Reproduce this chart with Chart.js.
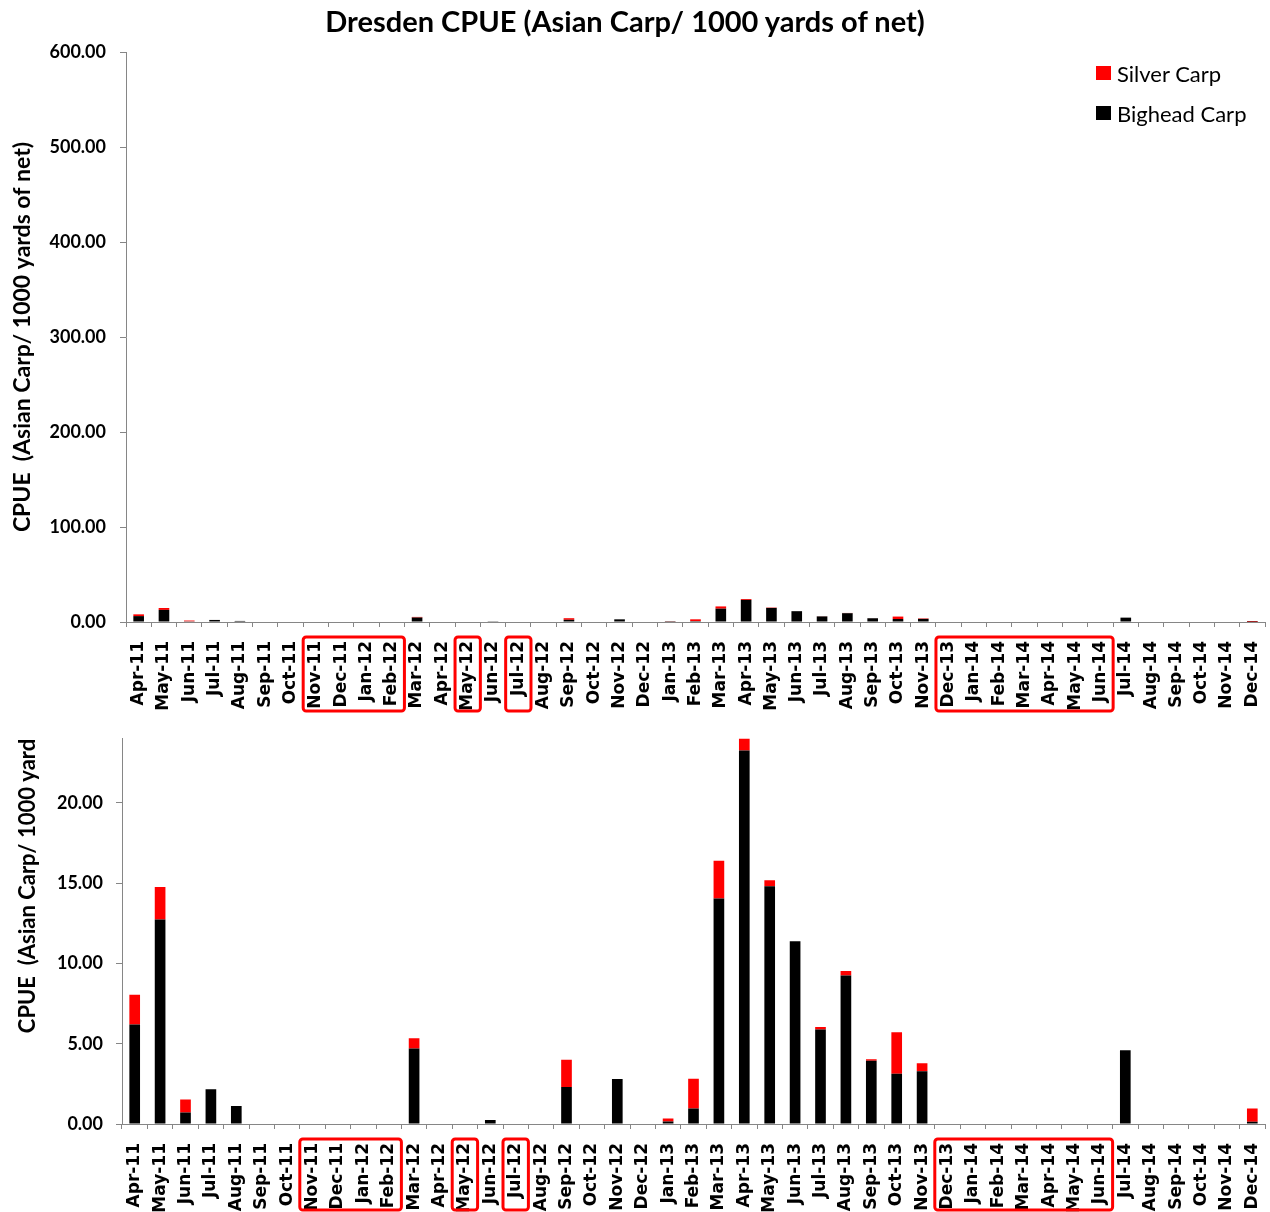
<!DOCTYPE html>
<html>
<head>
<meta charset="utf-8">
<title>Dresden CPUE</title>
<script src="https://cdn.jsdelivr.net/npm/chart.js@4.4.1/dist/chart.umd.min.js"></script>
<style>
  html, body { margin: 0; padding: 0; background: #fff; }
  #page { position: relative; width: 1270px; height: 1212px; overflow: hidden; }
  #title {
    position: absolute; left: 0; top: 3px; width: 1250px; text-align: center;
    font: bold 29px Lato, sans-serif; color: #000; white-space: pre;
  }
  #topCanvas { position: absolute; left: 0; top: 0; }
  #bottomCanvas { position: absolute; left: 0; top: 715px; }
  #legend { position: absolute; left: 1096px; top: 53px; font: 22px Lato, sans-serif; color: #000; }
  #legend .item { display: flex; align-items: center; height: 40px; }
  #legend .swatch { width: 15px; height: 14px; margin-right: 6px; }
</style>
</head>
<body>
<div id="page">
  <canvas id="topCanvas" width="1270" height="715"></canvas>
  <canvas id="bottomCanvas" width="1270" height="497"></canvas>
  <div id="title">Dresden CPUE (Asian Carp/ 1000 yards of net)</div>
  <div id="legend"></div>
</div>
<script>
// Sampling months (categories / x tick labels)
const months = [
  'Apr-11','May-11','Jun-11','Jul-11','Aug-11','Sep-11','Oct-11','Nov-11','Dec-11',
  'Jan-12','Feb-12','Mar-12','Apr-12','May-12','Jun-12','Jul-12','Aug-12','Sep-12','Oct-12','Nov-12','Dec-12',
  'Jan-13','Feb-13','Mar-13','Apr-13','May-13','Jun-13','Jul-13','Aug-13','Sep-13','Oct-13','Nov-13','Dec-13',
  'Jan-14','Feb-14','Mar-14','Apr-14','May-14','Jun-14','Jul-14','Aug-14','Sep-14','Oct-14','Nov-14','Dec-14'
];

// CPUE, bighead carp per 1000 yards of net
const bigheadCarp = [
  6.2, 12.74, 0.71, 2.17, 1.12, 0, 0, 0, 0,
  0, 0, 4.7, 0, 0, 0.25, 0, 0, 2.3, 0, 2.8, 0,
  0.15, 0.96, 14.05, 23.27, 14.82, 11.39, 5.89, 9.26, 3.94, 3.13, 3.29, 0,
  0, 0, 0, 0, 0, 0, 4.6, 0, 0, 0, 0, 0.14
];

// CPUE, silver carp per 1000 yards of net (stacked above bighead)
const silverCarp = [
  1.86, 2.02, 0.82, 0, 0, 0, 0, 0, 0,
  0, 0, 0.65, 0, 0, 0, 0, 0, 1.7, 0, 0, 0,
  0.2, 1.86, 2.35, 0.9, 0.37, 0, 0.16, 0.27, 0.09, 2.59, 0.49, 0,
  0, 0, 0, 0, 0, 0, 0, 0, 0, 0, 0, 0.82
];

// Month ranges outlined in red under the x axis
const outlinedMonths = [
  ['Nov-11', 'Feb-12'],
  ['May-12', 'May-12'],
  ['Jul-12', 'Jul-12'],
  ['Dec-13', 'Jun-14']
];

const RED = '#FF0000';
const BLACK = '#000000';
const AXIS_GREY = '#868686';

// Legend (Silver first, as in the chart key)
const legendItems = [
  { label: 'Silver Carp', color: RED },
  { label: 'Bighead Carp', color: BLACK }
];
const legendEl = document.getElementById('legend');
legendItems.forEach(it => {
  const row = document.createElement('div');
  row.className = 'item';
  const sw = document.createElement('span');
  sw.className = 'swatch';
  sw.style.background = it.color;
  const tx = document.createElement('span');
  tx.textContent = it.label;
  row.appendChild(sw);
  row.appendChild(tx);
  legendEl.appendChild(row);
});

// Red outline boxes around groups of x-axis labels
const labelBoxPlugin = {
  id: 'labelBoxes',
  afterDraw(chart, args, opts) {
    const x = chart.scales.x;
    const ctx = chart.ctx;
    const step = x.width / months.length;
    const top = chart.chartArea.bottom + 15;
    const bottom = Math.min(chart.chartArea.bottom + 89, chart.height - 2);
    ctx.save();
    ctx.strokeStyle = RED;
    ctx.lineWidth = 3;
    ctx.lineJoin = 'round';
    (opts.groups || []).forEach(([a, b]) => {
      const x0 = x.getPixelForValue(months.indexOf(a)) - step * 0.5;
      const x1 = x.getPixelForValue(months.indexOf(b)) + step * 0.5;
      ctx.beginPath();
      if (ctx.roundRect) ctx.roundRect(x0, top, x1 - x0, bottom - top, 3);
      else ctx.rect(x0, top, x1 - x0, bottom - top);
      ctx.stroke();
    });
    ctx.restore();
  }
};

function makeChart(canvasId, cfg) {
  return new Chart(document.getElementById(canvasId), {
    type: 'bar',
    data: {
      labels: months,
      datasets: [
        { label: 'Bighead Carp', data: bigheadCarp, backgroundColor: BLACK, borderWidth: 0 },
        { label: 'Silver Carp', data: silverCarp, backgroundColor: RED, borderWidth: 0 }
      ]
    },
    options: {
      responsive: false,
      animation: false,
      devicePixelRatio: 1,
      datasets: { bar: { categoryPercentage: 1.0, barPercentage: 0.42 } },
      layout: { padding: { left: 0, right: 5, top: cfg.padTop, bottom: 0 } },
      plugins: {
        legend: { display: false },
        title: { display: false },
        tooltip: { enabled: false },
        labelBoxes: { groups: outlinedMonths }
      },
      scales: {
        x: {
          stacked: true,
          offset: true,
          grid: { display: true, drawOnChartArea: false, drawTicks: true, tickLength: 5, color: AXIS_GREY, offset: true },
          border: { display: true, color: AXIS_GREY, width: 1 },
          ticks: {
            autoSkip: false, maxRotation: 90, minRotation: 90, padding: 14,
            color: '#000', font: { family: "'DejaVu Sans', sans-serif", weight: 'bold', size: 17 }
          },
          afterFit(scale) {
            scale.height = cfg.xHeight;
            scale.paddingLeft = 0;
            scale.paddingRight = 0;
          }
        },
        y: {
          stacked: true,
          min: 0,
          max: cfg.yMax,
          grid: { display: true, drawOnChartArea: false, drawTicks: true, tickLength: 6, color: AXIS_GREY },
          border: { display: true, color: AXIS_GREY, width: 1 },
          ticks: {
            stepSize: cfg.yStep, padding: cfg.tickPad, color: '#000',
            font: { family: 'Lato', weight: 'bold', size: 18 },
            callback: v => Number(v).toFixed(2)
          },
          afterBuildTicks(scale) {
            scale.ticks = scale.ticks.filter(t => Math.abs(t.value / cfg.yStep - Math.round(t.value / cfg.yStep)) < 1e-9);
          },
          title: {
            display: true,
            text: cfg.yTitle,
            align: cfg.yTitleAlign,
            color: '#000',
            font: { family: 'Lato', weight: 'bold', size: cfg.yTitleSize },
            padding: { top: cfg.yTitlePad, bottom: 0 }
          },
          afterFit(scale) { scale.width = cfg.yWidth; }
        }
      }
    },
    plugins: [labelBoxPlugin]
  });
}

// Full-scale view
makeChart('topCanvas', {
  yMax: 600, yStep: 100, padTop: 52, xHeight: 93, yWidth: 126, tickPad: 14,
  yTitle: 'CPUE  (Asian Carp/ 1000 yards of net)', yTitleAlign: 'center', yTitlePad: 9, yTitleSize: 23
});

// Zoomed view of the same catches
makeChart('bottomCanvas', {
  yMax: 24, yStep: 5, padTop: 16, xHeight: 88, yWidth: 122, tickPad: 13,
  yTitle: 'CPUE  (Asian Carp/ 1000 yard', yTitleAlign: 'end', yTitlePad: 15, yTitleSize: 22
});
</script>
</body>
</html>
